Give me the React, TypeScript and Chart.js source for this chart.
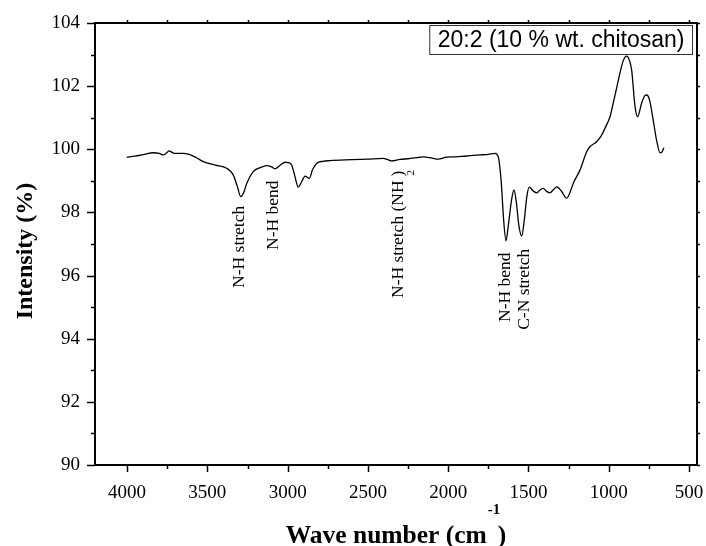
import React, { useEffect, useRef } from "react";
import { Chart, registerables } from "chart.js";

Chart.register(...registerables);

// ---- data ----
const wavenumbers = [
  4003, 3950, 3900, 3837, 3800, 3775, 3755, 3739, 3715, 3691, 3650, 3619, 3570, 3525, 3450, 3380,
  3339, 3315, 3292, 3270, 3255, 3214, 3170, 3130, 3100, 3079, 3050, 3016, 2995, 2975, 2955, 2934,
  2912, 2892, 2865, 2845, 2819, 2780, 2736, 2600, 2500, 2404, 2380, 2352, 2300, 2250, 2200, 2155,
  2100, 2062, 2009, 1950, 1900, 1802, 1750, 1708, 1688, 1670, 1655, 1640, 1625, 1605, 1590, 1575,
  1560, 1542, 1525, 1510, 1495, 1470, 1449, 1430, 1408, 1385, 1366, 1345, 1324, 1295, 1262, 1240,
  1221, 1179, 1137, 1117, 1075, 1044, 1024, 992, 972, 950, 930, 910, 888, 870, 857, 836,
  820, 795, 775, 763, 745, 723, 702, 680, 668, 656,
];
const intensity = [
  99.75, 99.78, 99.83, 99.89, 99.87, 99.82, 99.88, 99.95, 99.89, 99.87, 99.87, 99.85, 99.74, 99.61, 99.5, 99.4,
  99.19, 98.85, 98.5, 98.68, 98.92, 99.29, 99.42, 99.48, 99.44, 99.38, 99.48, 99.59, 99.58, 99.5, 99.15, 98.8,
  98.98, 99.15, 99.08, 99.35, 99.56, 99.62, 99.64, 99.67, 99.69, 99.71, 99.68, 99.63, 99.68, 99.7, 99.73, 99.76,
  99.72, 99.69, 99.75, 99.76, 99.78, 99.82, 99.84, 99.87, 99.76, 99.0, 97.8, 97.1, 97.6, 98.4, 98.71, 98.3,
  97.6, 97.25, 97.8, 98.5, 98.8, 98.68, 98.62, 98.7, 98.76, 98.66, 98.62, 98.72, 98.81, 98.68, 98.45, 98.65,
  98.92, 99.34, 99.92, 100.08, 100.24, 100.45, 100.66, 101.03, 101.46, 101.95, 102.41, 102.8, 102.95, 102.8, 102.51, 101.35,
  101.03, 101.46, 101.7, 101.72, 101.55, 100.93, 100.29, 99.89, 99.92, 100.05,
];
const xTickValues = [4000, 3500, 3000, 2500, 2000, 1500, 1000, 500];
const yTickValues = [90, 92, 94, 96, 98, 100, 102, 104];
const seriesLabel = "20:2 (10 % wt. chitosan)";
const xTitle = "Wave number (cm";
const xTitleSup = "-1";
const yTitle = "Intensity (%)";
const peakTexts = ["N-H stretch", "N-H bend", "N-H stretch (NH", "N-H bend", "C-N stretch"];
const peakSubscripts = ["", "", "2", "", ""];
const peakWavenumbers = [3303, 3091, 2313, 1646, 1528];
const peakLabelBase = [95.61, 96.81, 95.29, 94.53, 94.28];

const SERIF = "'Liberation Serif', 'Times New Roman', serif";
const SANS = "'Liberation Sans', Arial, sans-serif";

const overlayPlugin = {
  id: "overlay",
  afterDraw(chart: any) {
    const { ctx, chartArea: a, scales } = chart;
    const xs = scales.x;
    const ys = scales.y;
    ctx.save();
    ctx.strokeStyle = "#000";
    ctx.fillStyle = "#000";

    // tick marks
    ctx.lineWidth = 1.5;
    ctx.beginPath();
    const yMin = Math.min(...yTickValues);
    const yMax = Math.max(...yTickValues);
    for (let v = yMin; v <= yMax; v += 1) {
      const y = Math.round(ys.getPixelForValue(v)) + 0.5;
      const len = v % 2 === 0 ? 8 : 4;
      ctx.moveTo(a.left - len, y);
      ctx.lineTo(a.left, y);
      ctx.moveTo(a.right, y);
      ctx.lineTo(a.right + 3, y);
    }
    const xMin = Math.min(...xTickValues);
    const xMax = Math.max(...xTickValues);
    for (let v = xMin; v <= xMax; v += 250) {
      const x = Math.round(xs.getPixelForValue(v)) + 0.5;
      const len = v % 500 === 0 ? 7 : 4;
      ctx.moveTo(x, a.bottom);
      ctx.lineTo(x, a.bottom + len);
      ctx.moveTo(x, a.top);
      ctx.lineTo(x, a.top - 3);
    }
    ctx.stroke();

    // frame
    ctx.lineWidth = 2;
    ctx.strokeRect(a.left, a.top, a.right - a.left, a.bottom - a.top);

    // series label box
    ctx.font = `23px ${SANS}`;
    const tw = ctx.measureText(seriesLabel).width;
    const bw = tw + 16;
    const bh = 29;
    const bx = a.right - 5 - bw;
    const by = a.top + 2;
    ctx.fillStyle = "#fff";
    ctx.fillRect(bx, by, bw, bh);
    ctx.lineWidth = 1;
    ctx.strokeStyle = "#333";
    ctx.strokeRect(bx + 0.5, by + 0.5, bw, bh);
    ctx.fillStyle = "#000";
    ctx.textAlign = "center";
    ctx.textBaseline = "middle";
    ctx.fillText(seriesLabel, bx + bw / 2 + 0.5, by + bh / 2 + 1.5);

    // rotated peak labels
    for (let i = 0; i < peakTexts.length; i++) {
      const x = xs.getPixelForValue(peakWavenumbers[i]);
      const y = ys.getPixelForValue(peakLabelBase[i]);
      ctx.save();
      ctx.translate(x, y);
      ctx.rotate(-Math.PI / 2);
      ctx.textAlign = "left";
      ctx.textBaseline = "middle";
      ctx.font = `17.5px ${SERIF}`;
      ctx.fillText(peakTexts[i], 0, 0);
      if (peakSubscripts[i]) {
        const w = ctx.measureText(peakTexts[i]).width;
        ctx.fillText(")", w + 4, 0);
        ctx.font = `11px ${SERIF}`;
        ctx.fillText(peakSubscripts[i], w + 5, 13);
      }
      ctx.restore();
    }

    // y title
    ctx.save();
    ctx.font = `bold 24px ${SERIF}`;
    ctx.translate(26, (a.top + a.bottom) / 2 + 7);
    ctx.rotate(-Math.PI / 2);
    ctx.textAlign = "center";
    ctx.textBaseline = "middle";
    ctx.fillText(yTitle, 0, 0);
    ctx.restore();

    // x title with superscript
    ctx.save();
    ctx.textBaseline = "alphabetic";
    ctx.textAlign = "left";
    ctx.font = `bold 25.5px ${SERIF}`;
    const w1 = ctx.measureText(xTitle).width;
    const wp = ctx.measureText(")").width;
    const total = w1 + 11 + wp;
    const sx = (a.left + a.right) / 2 - total / 2;
    const base = 543;
    ctx.fillText(xTitle, sx, base);
    ctx.fillText(")", sx + w1 + 11, base);
    ctx.font = `bold 15px ${SERIF}`;
    ctx.fillText(xTitleSup, sx + w1 + 1, base - 29);
    ctx.restore();

    ctx.restore();
  },
};

export default function App() {
  const canvasRef = useRef<HTMLCanvasElement | null>(null);

  useEffect(() => {
    if (!canvasRef.current) return;
    const points = wavenumbers.map((w, i) => ({ x: w, y: intensity[i] }));
    const chart = new Chart(canvasRef.current, {
      type: "line",
      data: {
        datasets: [
          {
            label: seriesLabel,
            data: points,
            borderColor: "#000",
            borderWidth: 1.3,
            pointRadius: 0,
            fill: false,
            cubicInterpolationMode: "monotone",
          },
        ],
      },
      options: {
        animation: false,
        responsive: true,
        maintainAspectRatio: false,
        layout: { padding: { top: 23, right: 9, left: 0, bottom: 0 } },
        plugins: {
          legend: { display: false },
          tooltip: { enabled: false },
          title: { display: false },
        },
        scales: {
          x: {
            type: "linear",
            reverse: true,
            min: 450,
            max: 4200,
            grid: { display: false },
            border: { display: false },
            afterBuildTicks: (axis: any) => {
              axis.ticks = xTickValues.map((v) => ({ value: v }));
            },
            afterFit: (scale: any) => {
              scale.height = 81;
              scale.paddingLeft = 0;
              scale.paddingRight = 0;
            },
            ticks: {
              color: "#000",
              font: { family: SERIF, size: 19 },
              padding: 9,
              maxRotation: 0,
              autoSkip: false,
              callback: (v: any) => String(v),
            },
          },
          y: {
            type: "linear",
            min: 90,
            max: 104,
            grid: { display: false },
            border: { display: false },
            afterBuildTicks: (axis: any) => {
              axis.ticks = yTickValues.map((v) => ({ value: v }));
            },
            afterFit: (scale: any) => {
              scale.width = 95;
              scale.paddingTop = 0;
              scale.paddingBottom = 0;
            },
            ticks: {
              color: "#000",
              font: { family: SERIF, size: 19 },
              padding: 7,
              autoSkip: false,
              callback: (v: any) => String(v),
            },
          },
        },
      },
      plugins: [overlayPlugin],
    });
    return () => chart.destroy();
  }, []);

  return (
    <div style={{ position: "fixed", left: 0, top: 0, width: 706, height: 546, background: "#fff" }}>
      <canvas ref={canvasRef} />
    </div>
  );
}
